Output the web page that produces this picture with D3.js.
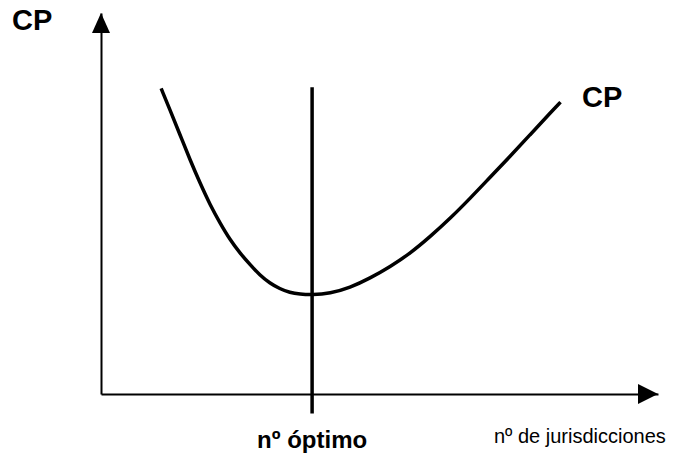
<!DOCTYPE html>
<html>
<head>
<meta charset="utf-8">
<script src="https://cdn.jsdelivr.net/npm/d3@7"></script>
<style>
  html, body { margin: 0; padding: 0; background: #fff; }
  svg { display: block; font-family: "Liberation Sans", Arial, sans-serif; }
</style>
</head>
<body>
<svg id="chart" width="678" height="455"></svg>
<script>
// CP curve: x = nº de jurisdicciones, y = coste (arbitrary units 0-100)
const curveX = [10.8, 12.4, 14.2, 16.0, 17.8, 19.6, 21.4, 23.2, 25.0, 26.8, 28.5, 30.3, 32.1, 33.9, 35.7, 37.9,
                41.1, 44.7, 48.3, 51.9, 55.5, 59.1, 62.7, 66.3, 69.8, 73.4, 77.0, 80.6, 82.5];
const curveY = [80.2, 74.5, 68.0, 61.4, 55.3, 49.6, 44.8, 40.4, 36.9, 33.9, 31.2, 29.1, 27.6, 26.6, 26.2, 26.0,
                26.4, 27.9, 30.4, 33.4, 36.9, 41.3, 46.1, 51.4, 56.8, 62.3, 68.0, 73.7, 76.6];

const optimumX = 37.9;
const optimumSpan = [-5.1, 80.5];

const labels = {
    yAxis: 'CP',
    curve: 'CP',
    optimum: 'nº óptimo',
    xAxis: 'nº de jurisdicciones'
};

const svg = d3.select('#chart');

const x = d3.scaleLinear().domain([0, 100]).range([101, 658]);
const y = d3.scaleLinear().domain([0, 100]).range([394, 13]);

// axes: domain line only, no ticks
svg.append('g')
    .attr('transform', `translate(0,${y(0)})`)
    .call(d3.axisBottom(x).tickValues([]).tickSizeOuter(0))
    .call(a => a.select('.domain').attr('stroke', '#000').attr('stroke-width', 2));

svg.append('g')
    .attr('transform', `translate(${x(0)},0)`)
    .call(d3.axisLeft(y).tickValues([]).tickSizeOuter(0))
    .call(a => a.select('.domain').attr('stroke', '#000').attr('stroke-width', 2));

// arrow heads
const xTip = x(100), yTip = y(100);
svg.append('path')
    .attr('d', `M${xTip},${y(0)} L${xTip - 20},${y(0) - 10} L${xTip - 20},${y(0) + 10} Z`)
    .attr('fill', '#000');
svg.append('path')
    .attr('d', `M${x(0)},${yTip} L${x(0) - 9},${yTip + 20} L${x(0) + 9},${yTip + 20} Z`)
    .attr('fill', '#000');

// optimum vertical line
svg.append('line')
    .attr('x1', x(optimumX)).attr('x2', x(optimumX))
    .attr('y1', y(optimumSpan[0])).attr('y2', y(optimumSpan[1]))
    .attr('stroke', '#000')
    .attr('stroke-width', 3.5);

// CP curve
const pts = curveX.map((v, i) => [v, curveY[i]]);
const line = d3.line()
    .x(d => x(d[0]))
    .y(d => y(d[1]))
    .curve(d3.curveBasis);

svg.append('path')
    .datum(pts)
    .attr('d', line)
    .attr('fill', 'none')
    .attr('stroke', '#000')
    .attr('stroke-width', 3.5);

// labels
svg.append('text')
    .attr('x', 12).attr('y', 30)
    .attr('font-size', 29).attr('font-weight', 'bold')
    .text(labels.yAxis);

svg.append('text')
    .attr('x', 582).attr('y', 107)
    .attr('font-size', 29).attr('font-weight', 'bold')
    .text(labels.curve);

svg.append('text')
    .attr('x', x(optimumX)).attr('y', 448)
    .attr('text-anchor', 'middle')
    .attr('font-size', 24).attr('font-weight', 'bold')
    .text(labels.optimum);

svg.append('text')
    .attr('x', 494).attr('y', 443)
    .attr('font-size', 20)
    .text(labels.xAxis);
</script>
</body>
</html>
